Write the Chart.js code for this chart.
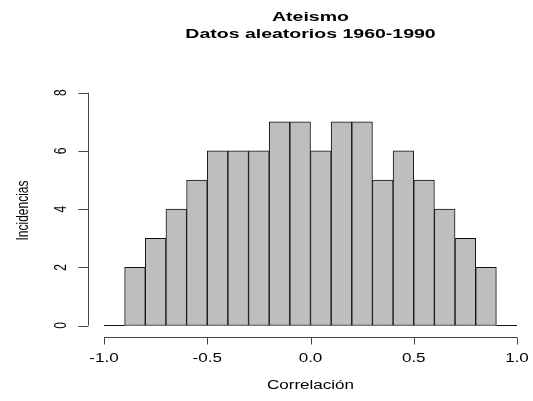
<!DOCTYPE html>
<html>
<head>
<meta charset="utf-8">
<script src="https://cdn.jsdelivr.net/npm/chart.js@4"></script>
<style>
  body { margin: 0; background: #fff; }
</style>
</head>
<body>
<canvas id="histChart" width="533" height="401"></canvas>
<script>
// histogram data
const binEdges = [-1.0, -0.9, -0.8, -0.7, -0.6, -0.5, -0.4, -0.3, -0.2, -0.1, 0.0,
                  0.1, 0.2, 0.3, 0.4, 0.5, 0.6, 0.7, 0.8, 0.9, 1.0];
const counts = [0, 2, 3, 4, 5, 6, 6, 6, 7, 7, 6, 7, 7, 5, 6, 5, 4, 3, 2, 0];
const xTicks = [-1.0, -0.5, 0.0, 0.5, 1.0];
const yTicks = [0, 2, 4, 6, 8];
const titleLines = ['Ateismo', 'Datos aleatorios 1960-1990'];
const xLabel = 'Correlación';
const yLabel = 'Incidencias';

const FONT = '"Liberation Sans", Arial, Helvetica, sans-serif';
const SX = 1.42; // the picture is stretched sideways

// build the bar points and the flat lines for empty bins
const barPoints = [];
const emptyBins = [];
counts.forEach((c, i) => {
    const lo = binEdges[i], hi = binEdges[i + 1];
    if (c > 0) {
        barPoints.push({ x: (lo + hi) / 2, y: c });
    } else {
        emptyBins.push({ x: lo, y: 0 }, { x: hi, y: 0 }, { x: hi, y: null });
    }
});

function drawText(ctx, text, x, y, opts) {
    ctx.save();
    ctx.font = opts.font;
    ctx.fillStyle = '#000';
    ctx.textAlign = 'center';
    ctx.textBaseline = 'alphabetic';
    ctx.translate(x, y);
    ctx.scale(opts.sx || SX, 1);
    if (opts.rotate) ctx.rotate(-Math.PI / 2);
    ctx.fillText(text, 0, 0);
    ctx.restore();
}

// R style axes, titles and labels
const rAxes = {
    id: 'rAxes',
    afterDatasetsDraw(chart) {
        const ctx = chart.ctx;
        const xs = chart.scales.x, ys = chart.scales.y;
        const area = chart.chartArea;
        ctx.save();
        ctx.strokeStyle = '#444';
        ctx.lineWidth = 1;

        // x axis
        const axY = Math.round(area.bottom) + 0.5;
        ctx.beginPath();
        ctx.moveTo(xs.getPixelForValue(xTicks[0]), axY);
        ctx.lineTo(xs.getPixelForValue(xTicks[xTicks.length - 1]), axY);
        xTicks.forEach(t => {
            const px = Math.round(xs.getPixelForValue(t)) + 0.5;
            ctx.moveTo(px, axY);
            ctx.lineTo(px, axY + 7);
        });
        ctx.stroke();
        xTicks.forEach(t => {
            drawText(ctx, t.toFixed(1), xs.getPixelForValue(t), axY + 24, { font: '12px ' + FONT });
        });

        // y axis
        const axX = Math.round(area.left) + 0.5;
        ctx.beginPath();
        ctx.moveTo(axX, ys.getPixelForValue(yTicks[0]));
        ctx.lineTo(axX, ys.getPixelForValue(yTicks[yTicks.length - 1]));
        yTicks.forEach(t => {
            const py = Math.round(ys.getPixelForValue(t)) + 0.5;
            ctx.moveTo(axX, py);
            ctx.lineTo(axX - 10, py);
        });
        ctx.stroke();
        yTicks.forEach(t => {
            drawText(ctx, String(t), axX - 22.5, ys.getPixelForValue(t), { font: '12px ' + FONT, rotate: true });
        });

        // titles
        const cx = (area.left + area.right) / 2;
        drawText(ctx, titleLines[0], cx, 21, { font: 'bold 13px ' + FONT, sx: 1.5 });
        drawText(ctx, titleLines[1], cx, 38, { font: 'bold 13px ' + FONT, sx: 1.5 });
        drawText(ctx, xLabel, cx, 388.5, { font: '12px ' + FONT });
        drawText(ctx, yLabel, 27.5, (area.top + area.bottom) / 2, { font: '12px ' + FONT, rotate: true });
        ctx.restore();
    }
};

const ctx = document.getElementById('histChart').getContext('2d');
const histChart = new Chart(ctx, {
    type: 'bar',
    data: {
        datasets: [
            {
                label: 'Incidencias',
                data: barPoints,
                backgroundColor: '#bebebe',
                borderColor: '#111',
                borderWidth: 1,
                borderSkipped: false,
                barPercentage: 1,
                categoryPercentage: 1
            },
            {
                type: 'line',
                label: 'vacios',
                data: emptyBins,
                borderColor: '#111',
                borderWidth: 1,
                pointRadius: 0,
                spanGaps: false
            }
        ]
    },
    plugins: [rAxes],
    options: {
        responsive: false,
        animation: false,
        devicePixelRatio: 1,
        layout: {
            padding: { left: 88, right: 0, top: 84, bottom: 64 }
        },
        plugins: {
            legend: { display: false },
            tooltip: { enabled: false }
        },
        scales: {
            x: {
                type: 'linear',
                display: false,
                offset: false,
                min: -1.0775,
                max: 1.0775
            },
            y: {
                display: false,
                min: -0.395,
                max: 8.3
            }
        }
    }
});
</script>
</body>
</html>
